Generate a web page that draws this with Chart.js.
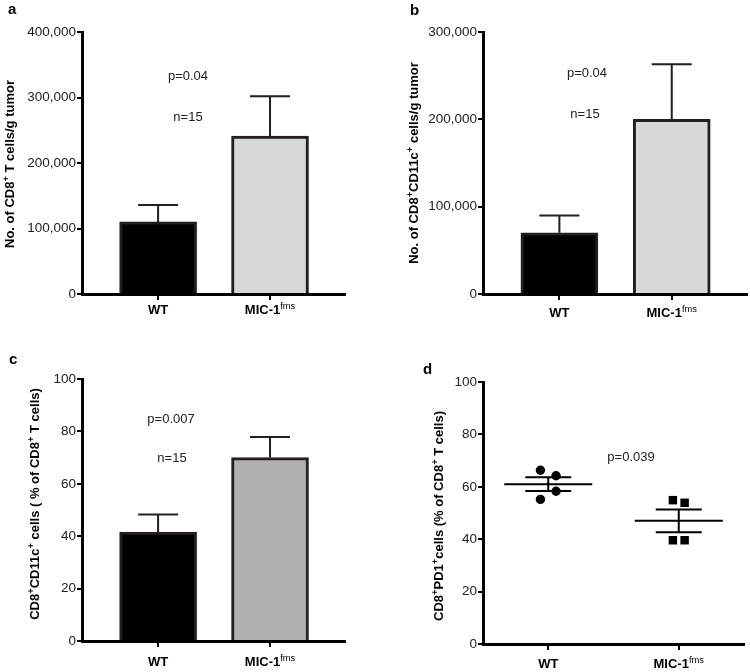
<!DOCTYPE html>
<html>
<head>
<meta charset="utf-8">
<script src="https://cdn.jsdelivr.net/npm/chart.js@4.4.1/dist/chart.umd.min.js"></script>
<style>
    body { margin: 0; background: #fff; }
    #wrap { position: relative; width: 750px; height: 672px; }
    #wrap canvas { position: absolute; }
</style>
</head>
<body>
<div id="wrap">
    <canvas id="chartA" width="375" height="336" style="left:0;top:0"></canvas>
    <canvas id="chartB" width="375" height="336" style="left:375px;top:0"></canvas>
    <canvas id="chartC" width="375" height="336" style="left:0;top:336px"></canvas>
    <canvas id="chartD" width="375" height="336" style="left:375px;top:336px"></canvas>
</div>
<script>
// Groups (x axis)
const groups = ['WT', 'MIC-1'];
const groupSup = ['', 'fms'];

// a: CD8+ T cells per g tumor (mean, SEM)
const cd8Mean = [110000, 241000];
const cd8Sem = [26000, 61000];

// b: CD8+CD11c+ cells per g tumor
const cd11cMean = [70000, 200000];
const cd11cSem = [20000, 63000];

// c: CD8+CD11c+ cells, % of CD8+ T cells
const pctMean = [41.6, 70.0];
const pctSem = [6.7, 7.9];

// d: CD8+PD1+ cells, % of CD8+ T cells (individual mice)
const pd1WT = [66.3, 64.2, 58.3, 55.2];
const pd1MIC = [54.9, 53.9, 39.6, 39.6];
const pd1Mean = [61.0, 47.0];
const pd1Sem = [2.6, 4.3];

const FONT = '"Liberation Sans", Arial, Helvetica, sans-serif';

// small horizontal spread of the dots in panel d (x units)
const wtJitter = [-0.06, 0.06, 0.06, -0.06];
const micJitter = [-0.045, 0.045, -0.045, 0.045];

// Draw text with ^superscript^ parts
function drawRich(ctx, markup, x, y, size, weight, supWeight) {
    const supSize = size * 0.72;
    const parts = markup.split('^').map((t, i) => ({ t, sup: i % 2 === 1 }));
    let total = 0;
    parts.forEach(p => {
        ctx.font = `${p.sup ? supWeight : weight} ${p.sup ? supSize : size}px ${FONT}`;
        p.w = ctx.measureText(p.t).width;
        total += p.w;
    });
    let cx = x - total / 2;
    ctx.textAlign = 'left';
    ctx.textBaseline = 'alphabetic';
    parts.forEach(p => {
        ctx.font = `${p.sup ? supWeight : weight} ${p.sup ? supSize : size}px ${FONT}`;
        ctx.fillText(p.t, cx, p.sup ? y - size * 0.42 : y);
        cx += p.w;
    });
}

// Panel letter, y title, x labels and p / n notes
function makeDecor(opt) {
    return {
        id: 'decor',
        afterDraw(chart) {
            const ctx = chart.ctx;
            const x = chart.scales.x;
            ctx.save();
            ctx.fillStyle = '#000';
            ctx.font = `bold 15px ${FONT}`;
            ctx.textAlign = 'left';
            ctx.textBaseline = 'alphabetic';
            ctx.fillText(opt.letter, opt.letterX, opt.letterY);

            ctx.save();
            ctx.translate(opt.titleX, opt.titleY);
            ctx.rotate(-Math.PI / 2);
            drawRich(ctx, opt.title, 0, 0, 13, 'bold', 'bold');
            ctx.restore();

            const base = chart.chartArea.bottom + opt.labelGap;
            groups.forEach((g, i) => {
                const m = groupSup[i] ? `${g}^${groupSup[i]}^` : g;
                drawRich(ctx, m, x.getPixelForValue(i + 1), base, 13, 'bold', 'normal');
            });

            ctx.fillStyle = '#222';
            ctx.font = `13px ${FONT}`;
            ctx.textAlign = 'center';
            ctx.textBaseline = 'middle';
            opt.notes.forEach(n => ctx.fillText(n.t, n.x, n.y));
            ctx.restore();
        }
    };
}

// Upper error bars on the bars
const errorBars = {
    id: 'errorBars',
    afterDatasetsDraw(chart) {
        const ctx = chart.ctx;
        const y = chart.scales.y;
        const ds = chart.data.datasets[0];
        chart.getDatasetMeta(0).data.forEach((bar, i) => {
            const top = y.getPixelForValue(ds.data[i].y + ds.errors[i]);
            ctx.save();
            ctx.strokeStyle = '#231f20';
            ctx.lineWidth = 2;
            ctx.beginPath();
            ctx.moveTo(bar.x, bar.y);
            ctx.lineTo(bar.x, top);
            ctx.moveTo(bar.x - 20, top);
            ctx.lineTo(bar.x + 20, top);
            ctx.stroke();
            ctx.restore();
        });
    }
};

// Mean and SEM lines for panel d
const meanLines = {
    id: 'meanLines',
    beforeDatasetsDraw(chart) {
        const ctx = chart.ctx;
        const x = chart.scales.x, y = chart.scales.y;
        ctx.save();
        ctx.strokeStyle = '#000';
        ctx.lineWidth = 2;
        pd1Mean.forEach((m, i) => {
            const cx = x.getPixelForValue(i + 1);
            const ym = y.getPixelForValue(m);
            const yHi = y.getPixelForValue(m + pd1Sem[i]);
            const yLo = y.getPixelForValue(m - pd1Sem[i]);
            ctx.beginPath();
            ctx.moveTo(cx - 44, ym); ctx.lineTo(cx + 44, ym);
            ctx.moveTo(cx - 23, yHi); ctx.lineTo(cx + 23, yHi);
            ctx.moveTo(cx - 23, yLo); ctx.lineTo(cx + 23, yLo);
            ctx.moveTo(cx, yHi); ctx.lineTo(cx, yLo);
            ctx.stroke();
        });
        ctx.restore();
    }
};

function xScale(min, max, h) {
    return {
        type: 'linear',
        min: min,
        max: max,
        offset: false,
        afterBuildTicks: s => { s.ticks = [{ value: 1 }, { value: 2 }]; },
        afterFit: s => { s.height = h; },
        ticks: { display: false },
        grid: { offset: false, drawOnChartArea: false, drawTicks: true, tickLength: 6, color: '#000', lineWidth: 2 },
        border: { display: true, color: '#000', width: 3 }
    };
}

function yScale(max, step, w) {
    return {
        min: 0,
        max: max,
        afterFit: s => { s.width = w; },
        ticks: {
            stepSize: step,
            color: '#222',
            padding: 1,
            font: { family: FONT, size: 13.5 },
            callback: v => v.toLocaleString('en-US')
        },
        grid: { drawOnChartArea: false, drawTicks: true, tickLength: 5, color: '#000', lineWidth: 2 },
        border: { display: true, color: '#000', width: 3 }
    };
}

function barChart(id, means, sems, fills, opt) {
    return new Chart(document.getElementById(id), {
        type: 'bar',
        data: {
            datasets: [{
                data: means.map((v, i) => ({ x: i + 1, y: v })),
                errors: sems,
                backgroundColor: fills,
                borderColor: '#231f20',
                borderWidth: 3,
                barThickness: 77
            }]
        },
        options: {
            responsive: false,
            animation: false,
            layout: { padding: opt.pad },
            plugins: { legend: { display: false }, tooltip: { enabled: false } },
            scales: {
                x: xScale(0.32, 2.67, opt.xHeight),
                y: yScale(opt.yMax, opt.yStep, opt.yWidth)
            }
        },
        plugins: [errorBars, makeDecor(opt)]
    });
}

barChart('chartA', cd8Mean, cd8Sem, ['#000000', '#d6d7d7'], {
    pad: { top: 32, right: 30, left: 0, bottom: 0 },
    xHeight: 42, yWidth: 82, yMax: 400000, yStep: 100000,
    letter: 'a', letterX: 8, letterY: 14,
    title: 'No. of CD8^+^ T cells/g tumor', titleX: 14, titleY: 164,
    labelGap: 20,
    notes: [{ t: 'p=0.04', x: 188, y: 76 }, { t: 'n=15', x: 188, y: 117 }]
});

barChart('chartB', cd11cMean, cd11cSem, ['#000000', '#d8d8d8'], {
    pad: { top: 32, right: 3, left: 0, bottom: 0 },
    xHeight: 42, yWidth: 108, yMax: 300000, yStep: 100000,
    letter: 'b', letterX: 35, letterY: 15,
    title: 'No. of CD8^+^CD11c^+^ cells/g tumor', titleX: 43, titleY: 163,
    labelGap: 23,
    notes: [{ t: 'p=0.04', x: 212, y: 73 }, { t: 'n=15', x: 210, y: 114 }]
});

barChart('chartC', pctMean, pctSem, ['#000000', '#b0b0b0'], {
    pad: { top: 43, right: 30, left: 0, bottom: 0 },
    xHeight: 31, yWidth: 82, yMax: 100, yStep: 20,
    letter: 'c', letterX: 9, letterY: 28,
    title: 'CD8^+^CD11c^+^ cells ( % of CD8^+^ T cells)', titleX: 39, titleY: 168,
    labelGap: 25,
    notes: [{ t: 'p=0.007', x: 171, y: 83 }, { t: 'n=15', x: 172, y: 122 }]
});

// d: dot plot
const optD = {
    letter: 'd', letterX: 48, letterY: 38,
    title: 'CD8^+^PD1^+^cells (% of CD8^+^ T cells)', titleX: 68, titleY: 180,
    labelGap: 24,
    notes: [{ t: 'p=0.039', x: 256, y: 121 }]
};

new Chart(document.getElementById('chartD'), {
    type: 'scatter',
    data: {
        datasets: [{
            data: pd1WT.map((v, i) => ({ x: 1 + wtJitter[i], y: v })),
            pointStyle: 'circle',
            pointRadius: 4.7,
            backgroundColor: '#000',
            borderWidth: 0
        }, {
            data: pd1MIC.map((v, i) => ({ x: 2 + micJitter[i], y: v })),
            pointStyle: 'rect',
            pointRadius: 6,
            backgroundColor: '#000',
            borderWidth: 0
        }]
    },
    options: {
        responsive: false,
        animation: false,
        layout: { padding: { top: 46, right: 3, left: 0, bottom: 0 } },
        plugins: { legend: { display: false }, tooltip: { enabled: false } },
        scales: {
            x: xScale(0.5, 2.5, 28),
            y: yScale(100, 20, 108)
        }
    },
    plugins: [meanLines, makeDecor(optD)]
});
</script>
</body>
</html>
